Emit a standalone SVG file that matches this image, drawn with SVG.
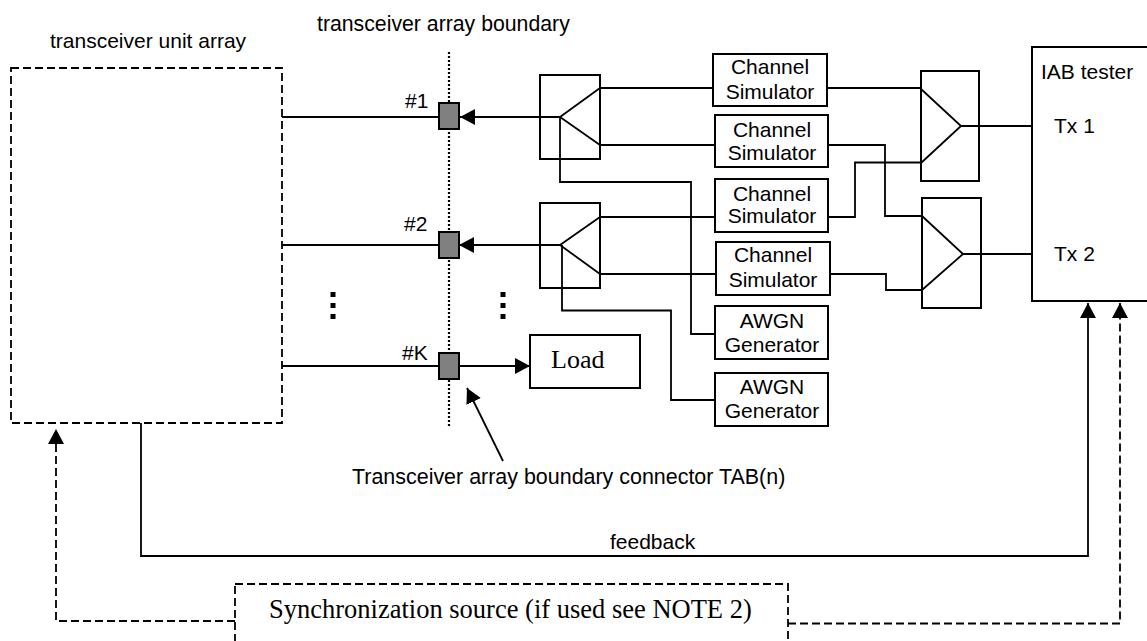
<svg xmlns="http://www.w3.org/2000/svg" width="1147" height="641" viewBox="0 0 1147 641">
<style>
text{font-family:"Liberation Sans",Arial,sans-serif;font-size:21px;fill:#000}
.c{text-anchor:middle}
.t{font-family:"Liberation Serif","Times New Roman",serif}
.b{fill:#fff;stroke:#000;stroke-width:2}
.w{fill:none;stroke:#000;stroke-width:1.800}
.d{fill:none;stroke:#000;stroke-width:1.800;stroke-dasharray:8 4}
.p{fill:#808080;stroke:#000;stroke-width:2}
.k{fill:none;stroke:#000;stroke-width:5;stroke-dasharray:5 6}
</style>
<defs>
<marker id="a" markerUnits="userSpaceOnUse" markerWidth="16" markerHeight="16" refX="15" refY="8" orient="auto"><path d="M0 0L15 8L0 16Z" fill="#000"/></marker>
</defs>
<rect width="1147" height="641" fill="#fff"/>
<g id="tua"><rect class="d" x="11" y="68" width="271" height="355"/><text x="50" y="48">transceiver unit array</text></g>
<g id="boundary"><path d="M449 52V428" fill="none" stroke="#000" stroke-width="2.200" stroke-dasharray="2 2"/><text x="317" y="31" style="font-size:21.250px">transceiver array boundary</text></g>
<g id="connectors">
<path class="w" d="M282 117H439M282 245H439M282 366H439"/>
<path class="w" marker-end="url(#a)" d="M560 117H460"/>
<path class="w" marker-end="url(#a)" d="M560 245H459"/>
<path class="w" marker-end="url(#a)" d="M459 366H530"/>
<path class="w" d="M560 117V182H691V334H715M562 245V310.500H671V400H715"/>
<path class="w" d="M600 88H713M600 145H715M600 217H715M600 274H716"/>
<path class="w" d="M827 88H921M828 145H885V216H922M828 217H855V162.500H921M830 274H886V290H922"/>
<path class="w" d="M961 126H1032M963 254H1032"/>
<path class="w" marker-end="url(#a)" d="M503 461L467 388"/>
<path class="w" marker-end="url(#a)" d="M141 423V556H1088V303"/>
<path class="d" marker-end="url(#a)" d="M235 621H56V429"/>
<path class="d" marker-end="url(#a)" d="M788 623.500H1120V303"/>
</g>
<g id="port1"><rect class="p" x="439" y="103" width="20" height="26"/><text x="405" y="108">#1</text></g>
<g id="port2"><rect class="p" x="439" y="232" width="20" height="26"/><text x="404" y="231">#2</text></g>
<g id="portk"><rect class="p" x="439" y="353" width="20" height="26"/><text x="402" y="360">#K</text></g>
<g id="dots1"><path class="k" d="M333 292V320"/></g>
<g id="dots2"><path class="k" d="M503 292V320"/></g>
<g id="split1"><rect class="b" x="540" y="75" width="60" height="84" fill-opacity="0"/><path class="w" d="M600 88L560 117L600 145"/></g>
<g id="split2"><rect class="b" x="540" y="203" width="60" height="85" fill-opacity="0"/><path class="w" d="M600 217L560 245L600 274"/></g>
<g id="cs1"><rect class="b" x="713" y="54" width="114" height="52"/><text class="c" x="770" y="74">Channel</text><text class="c" x="770" y="99">Simulator</text></g>
<g id="cs2"><rect class="b" x="715" y="115" width="113" height="52"/><text class="c" x="772" y="137">Channel</text><text class="c" x="772" y="160">Simulator</text></g>
<g id="cs3"><rect class="b" x="715" y="179" width="113" height="53"/><text class="c" x="772" y="201">Channel</text><text class="c" x="772" y="223">Simulator</text></g>
<g id="cs4"><rect class="b" x="716" y="242" width="114" height="53"/><text class="c" x="773" y="262">Channel</text><text class="c" x="773" y="287">Simulator</text></g>
<g id="awgn1"><rect class="b" x="715" y="306" width="113" height="53"/><text class="c" x="772" y="328">AWGN</text><text class="c" x="772" y="352">Generator</text></g>
<g id="awgn2"><rect class="b" x="715" y="373" width="113" height="53"/><text class="c" x="772" y="394">AWGN</text><text class="c" x="772" y="418">Generator</text></g>
<g id="comb1"><rect class="b" x="921" y="71" width="58" height="110" fill-opacity="0"/><path class="w" d="M921 89L961 126L921 163"/></g>
<g id="comb2"><rect class="b" x="922" y="198" width="59" height="110" fill-opacity="0"/><path class="w" d="M922 216L963 254L922 290"/></g>
<g id="tester"><rect class="b" x="1032" y="47" width="118" height="254"/><text x="1041" y="79">IAB tester</text><text x="1054" y="133">Tx 1</text><text x="1054" y="261">Tx 2</text></g>
<g id="load"><rect class="b" x="530" y="335" width="110" height="53"/><text class="t" x="551" y="368" style="font-size:26px">Load</text></g>
<g id="tablabel"><text x="352" y="484" style="font-size:21.450px">Transceiver array boundary connector TAB(n)</text></g>
<g id="feedback"><text x="610" y="549">feedback</text></g>
<g id="sync"><rect class="d" x="235" y="584" width="553" height="70"/><text class="t" x="269" y="618" style="font-size:26.500px">Synchronization source (if used see NOTE 2)</text></g>
</svg>
